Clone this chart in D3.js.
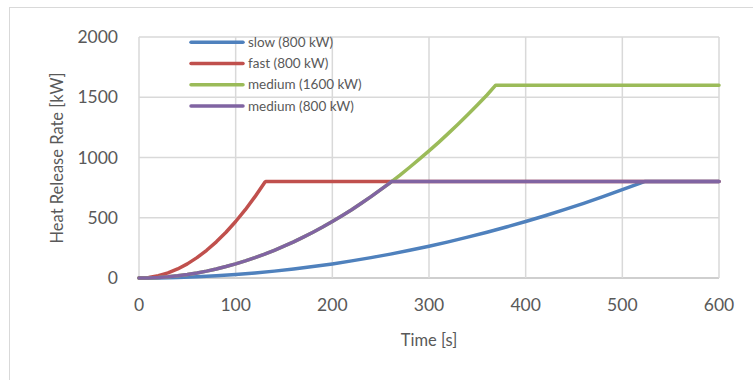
<!DOCTYPE html>
<html><head><meta charset="utf-8">
<script src="https://cdn.jsdelivr.net/npm/d3@7"></script>
<style>body{margin:0;background:#fff}svg{display:block}text{font-family:Lato,"Open Sans",sans-serif;fill:#595959}</style>
</head><body><svg id="c" width="753" height="380"></svg>
<script>
const xTicks = [0,100,200,300,400,500,600];
const yTicks = [0,500,1000,1500,2000];
const seriesNames = ["slow (800 kW)","fast (800 kW)","medium (1600 kW)","medium (800 kW)"];
const seriesColors = ["#4f81bd","#c0504d","#9bbb59","#8064a2"];
const slowT = [0,20,40,60,80,100,120,140,160,180,200,220,240,260,280,300,320,340,360,380,400,420,440,460,480,500,520,523,600];
const slowV = [0,1,5,11,19,29,42,57,75,95,117,142,169,198,230,264,300,339,380,423,469,517,567,620,675,733,792,800,800];
const fastT = [0,10,20,30,40,50,60,70,80,90,100,110,120,130,131,600];
const fastV = [0,5,19,42,75,117,169,230,300,380,469,567,675,793,800,800];
const medHiT = [0,10,20,30,40,50,60,70,80,90,100,110,120,130,140,150,160,170,180,190,200,210,220,230,240,250,260,270,280,290,300,310,320,330,340,350,360,369,600];
const medHiV = [0,1,5,11,19,29,42,57,75,95,117,142,169,198,230,264,300,339,380,423,469,517,567,620,675,733,792,854,919,986,1055,1126,1200,1276,1355,1436,1519,1600,1600];
const medLoT = [0,10,20,30,40,50,60,70,80,90,100,110,120,130,140,150,160,170,180,190,200,210,220,230,240,250,260,261,600];
const medLoV = [0,1,5,11,19,29,42,57,75,95,117,142,169,198,230,264,300,339,380,423,469,517,567,620,675,733,792,800,800];

const series = [[slowT,slowV],[fastT,fastV],[medHiT,medHiV],[medLoT,medLoV]];
const svg = d3.select("#c");
svg.append("rect").attr("x",9.5).attr("y",7.5).attr("width",800).attr("height",400)
  .attr("fill","#fff").attr("stroke","#d9d9d9").attr("stroke-width",1);

const x = d3.scaleLinear().domain([0,600]).range([139,719]);
const y = d3.scaleLinear().domain([0,2000]).range([278,37]);

const g = svg.append("g");
g.selectAll(".gy").data(yTicks).join("line")
  .attr("x1",x(0)).attr("x2",x(600)).attr("y1",d=>y(d)).attr("y2",d=>y(d))
  .attr("stroke",d=>d===0?"#bfbfbf":"#d9d9d9").attr("stroke-width",1.5);
g.selectAll(".gx").data(xTicks).join("line")
  .attr("x1",d=>x(d)).attr("x2",d=>x(d)).attr("y1",y(0)).attr("y2",y(2000))
  .attr("stroke","#d9d9d9").attr("stroke-width",1.5);

g.selectAll(".ty").data(yTicks).join("text")
  .attr("x",118).attr("y",d=>y(d)).attr("dy","0.35em").attr("text-anchor","end")
  .attr("font-size","17.5px").text(d=>d);
g.selectAll(".tx").data(xTicks).join("text")
  .attr("x",d=>x(d)).attr("y",305).attr("dy","0.35em").attr("text-anchor","middle")
  .attr("font-size","17.5px").text(d=>d);

svg.append("text").attr("x",429).attr("y",340).attr("dy","0.35em").attr("text-anchor","middle")
  .attr("font-size","16.5px").text("Time [s]");
svg.append("text").attr("transform","translate(57,158) rotate(-90)").attr("dy","0.35em")
  .attr("text-anchor","middle").attr("font-size","16.5px").text("Heat Release Rate [kW]");

const line = d3.line().x(d=>x(d[0])).y(d=>y(d[1]));
series.forEach((s,i)=>{
  const pts = s[0].map((t,j)=>[t,s[1][j]]);
  svg.append("path").attr("d",line(pts)).attr("fill","none")
    .attr("stroke",seriesColors[i]).attr("stroke-width",3.5).attr("stroke-linejoin","round").attr("stroke-linecap","round");
});

const leg = svg.append("g");
seriesNames.forEach((n,i)=>{
  const yy = 42.3 + i*21.2;
  leg.append("line").attr("x1",191).attr("x2",243).attr("y1",yy).attr("y2",yy)
    .attr("stroke",seriesColors[i]).attr("stroke-width",3.5).attr("stroke-linecap","round");
  leg.append("text").attr("x",248).attr("y",yy).attr("dy","0.35em").attr("font-size","13.5px").text(n);
});
</script></body></html>
